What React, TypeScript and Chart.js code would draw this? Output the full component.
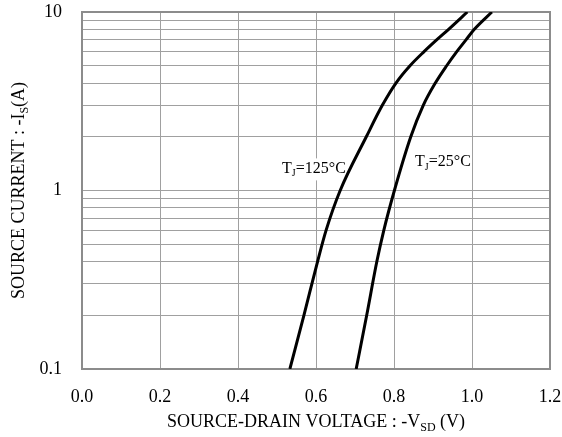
import React, { useEffect, useRef } from "react";
import { Chart, registerables } from "chart.js";

Chart.register(...registerables);

// Tj = 125°C
const vsd125 = [0.533, 0.569, 0.604, 0.626, 0.662, 0.729, 0.770, 0.805, 0.841, 0.877, 0.910, 0.940, 0.988];
const is125 = [0.1, 0.2, 0.4, 0.6, 1, 2, 3, 4, 5, 6, 7, 8, 10];
// Tj = 25°C
const vsd25 = [0.703, 0.730, 0.756, 0.774, 0.801, 0.843, 0.875, 0.906, 0.935, 0.961, 0.985, 1.006, 1.051];
const is25 = [0.1, 0.2, 0.4, 0.6, 1, 2, 3, 4, 5, 6, 7, 8, 10];

const xTicks = [0, 0.2, 0.4, 0.6, 0.8, 1.0, 1.2];
const yTicks = [0.1, 0.2, 0.3, 0.4, 0.5, 0.6, 0.7, 0.8, 0.9, 1, 2, 3, 4, 5, 6, 7, 8, 9, 10];
const yLabels = [0.1, 1, 10];

const xTitle = [{ t: "SOURCE-DRAIN VOLTAGE : -V" }, { t: "SD", sub: true }, { t: " (V)" }];
const yTitle = [{ t: "SOURCE CURRENT : -I" }, { t: "S", sub: true }, { t: "(A)" }];
const label125 = [{ t: "T" }, { t: "J", sub: true }, { t: "=125°C" }];
const label25 = [{ t: "T" }, { t: "J", sub: true }, { t: "=25°C" }];
const labelAnchors = [
  { x: 0.513, y: 1.33, parts: label125 },
  { x: 0.854, y: 1.44, parts: label25 },
];

const FONT = '"Liberation Serif", "Times New Roman", serif';

type Part = { t: string; sub?: boolean };

function richWidth(ctx: CanvasRenderingContext2D, parts: Part[], size: number) {
  let w = 0;
  for (const p of parts) {
    ctx.font = `${p.sub ? Math.round(size * 0.65) : size}px ${FONT}`;
    w += ctx.measureText(p.t).width;
  }
  return w;
}

function drawRich(ctx: CanvasRenderingContext2D, parts: Part[], x: number, y: number, size: number) {
  ctx.textBaseline = "middle";
  ctx.textAlign = "left";
  let cx = x;
  for (const p of parts) {
    const s = p.sub ? Math.round(size * 0.65) : size;
    ctx.font = `${s}px ${FONT}`;
    ctx.fillText(p.t, cx, p.sub ? y + size * 0.3 : y);
    cx += ctx.measureText(p.t).width;
  }
}

const textPlugin = {
  id: "textPlugin",
  beforeDatasetsDraw(chart: any) {
    const { ctx, chartArea, scales } = chart;
    ctx.save();
    ctx.strokeStyle = "#8c8c8c";
    ctx.lineWidth = 2;
    ctx.strokeRect(chartArea.left, chartArea.top, chartArea.right - chartArea.left, chartArea.bottom - chartArea.top);
    const ls = 16;
    for (const a of labelAnchors) {
      const px = scales.x.getPixelForValue(a.x);
      const py = scales.y.getPixelForValue(a.y);
      const w = richWidth(ctx, a.parts, ls);
      ctx.fillStyle = "#fff";
      ctx.fillRect(px - 1, py - 10, w + 2, 22);
      ctx.fillStyle = "#000";
      drawRich(ctx, a.parts, px, py, ls);
    }
    ctx.restore();
  },
  afterDatasetsDraw(chart: any) {
    const { ctx, chartArea } = chart;
    ctx.save();
    ctx.fillStyle = "#000";
    const ts = 18;
    const xw = richWidth(ctx, xTitle, ts);
    const xc = (chartArea.left + chartArea.right) / 2;
    drawRich(ctx, xTitle, xc - xw / 2, 422, ts);
    const yw = richWidth(ctx, yTitle, ts);
    const yc = (chartArea.top + chartArea.bottom) / 2;
    ctx.translate(19, yc);
    ctx.rotate(-Math.PI / 2);
    drawRich(ctx, yTitle, -yw / 2, 0, ts);
    ctx.restore();
  },
};

export default function App() {
  const ref = useRef<HTMLCanvasElement>(null);
  useEffect(() => {
    document.body.style.margin = "0";
    const canvas = ref.current!;
    const chart = new Chart(canvas, {
      type: "line",
      data: {
        datasets: [
          {
            label: "Tj=125°C",
            data: vsd125.map((v, i) => ({ x: v, y: is125[i] })),
            borderColor: "#000",
            borderWidth: 3,
            pointRadius: 0,
            cubicInterpolationMode: "monotone",
            fill: false,
          },
          {
            label: "Tj=25°C",
            data: vsd25.map((v, i) => ({ x: v, y: is25[i] })),
            borderColor: "#000",
            borderWidth: 3,
            pointRadius: 0,
            cubicInterpolationMode: "monotone",
            fill: false,
          },
        ],
      },
      options: {
        responsive: false,
        animation: false,
        events: [],
        layout: { padding: { top: 12, right: 12, left: 0, bottom: 0 } },
        plugins: { legend: { display: false }, tooltip: { enabled: false } },
        scales: {
          x: {
            type: "linear",
            min: 0,
            max: 1.2,
            afterBuildTicks: (s: any) => {
              s.ticks = xTicks.map((v) => ({ value: v }));
            },
            afterFit: (s: any) => {
              s.height = 68;
              s.paddingLeft = 0;
              s.paddingRight = 0;
            },
            ticks: {
              autoSkip: false,
              maxRotation: 0,
              padding: 17,
              color: "#000",
              font: { family: FONT, size: 18 },
              callback: (v: any) => Number(v).toFixed(1),
            },
            grid: { color: "#a0a0a0", lineWidth: 1, drawTicks: false },
            border: { display: false },
          },
          y: {
            type: "logarithmic",
            min: 0.1,
            max: 10,
            afterBuildTicks: (s: any) => {
              s.ticks = yTicks.map((v) => ({ value: v }));
            },
            afterFit: (s: any) => {
              s.width = 82;
              s.paddingTop = 0;
              s.paddingBottom = 0;
            },
            ticks: {
              autoSkip: false,
              padding: 20,
              color: "#000",
              font: { family: FONT, size: 18 },
              callback: (v: any) => (yLabels.some((l) => Math.abs(l - v) < 1e-9) ? String(v) : ""),
            },
            grid: { color: "#a0a0a0", lineWidth: 1, drawTicks: false },
            border: { display: false },
          },
        },
      },
      plugins: [textPlugin],
    } as any);
    return () => chart.destroy();
  }, []);
  return <canvas ref={ref} width={562} height={437} style={{ display: "block", width: 562, height: 437 }} />;
}
